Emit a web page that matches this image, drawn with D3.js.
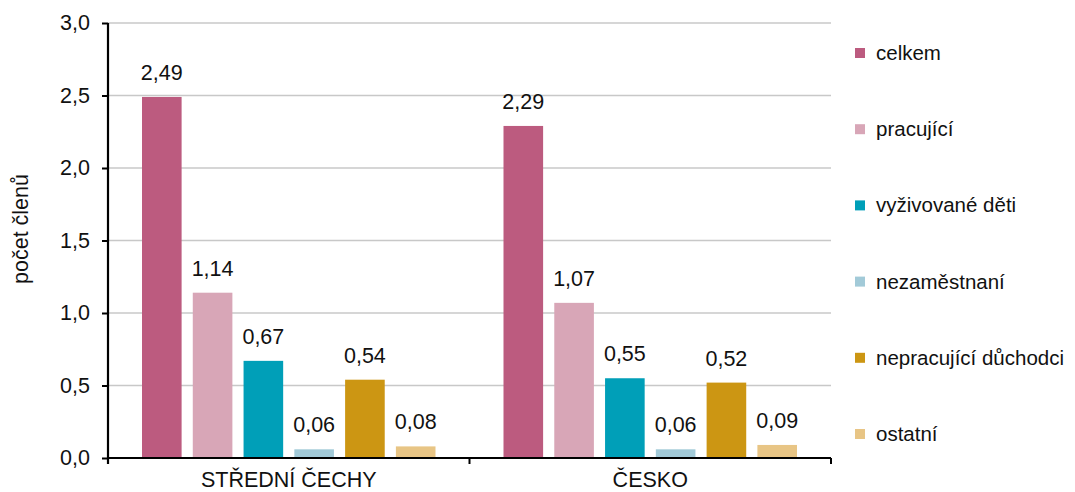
<!DOCTYPE html>
<html>
<head>
<meta charset="utf-8">
<script src="https://cdn.jsdelivr.net/npm/d3@7"></script>
<style>
  html, body { margin: 0; padding: 0; background: #fff; }
  svg { display: block; font-family: "Liberation Sans", Arial, sans-serif; }
</style>
</head>
<body>
<svg id="chart" width="1075" height="492"></svg>
<script>
const categories = ["STŘEDNÍ ČECHY", "ČESKO"];
const seriesNames = ["celkem", "pracující", "vyživované děti", "nezaměstnaní", "nepracující důchodci", "ostatní"];
const seriesColors = ["#BC5B7F", "#D8A6B7", "#009FB8", "#A2CAD8", "#CC9613", "#E8C585"];
const valuesStredniCechy = [2.49, 1.14, 0.67, 0.06, 0.54, 0.08];
const valuesCesko = [2.29, 1.07, 0.55, 0.06, 0.52, 0.09];
const yTicks = [0, 0.5, 1.0, 1.5, 2.0, 2.5, 3.0];
const yTitle = "počet členů";

const seriesValues = [valuesStredniCechy, valuesCesko];

const svg = d3.select("#chart");
const mLeft = 108, mRight = 831, mTop = 23, mBottom = 458;

const x0 = d3.scaleBand().domain(categories).range([mLeft, mRight]).padding(0);
const x1 = d3.scaleBand().domain(seriesNames)
  .range([34, x0.bandwidth() - 34]).paddingInner(0.22).paddingOuter(0);
const y = d3.scaleLinear().domain([0, 3]).range([mBottom, mTop]);

const fmt = v => d3.format(".2f")(v).replace(".", ",");
const fmtTick = v => d3.format(".1f")(v).replace(".", ",");

// gridlines
svg.append("g").selectAll("line").data(yTicks.filter(t => t > 0)).join("line")
  .attr("x1", mLeft).attr("x2", mRight)
  .attr("y1", d => y(d)).attr("y2", d => y(d))
  .attr("stroke", "#C8C8C8").attr("stroke-width", 1.3);

// bars
const groups = svg.append("g").selectAll("g").data(categories).join("g")
  .attr("transform", d => `translate(${x0(d)},0)`);

groups.each(function(cat, ci) {
  const g = d3.select(this);
  const data = seriesNames.map((s, i) => ({ s, v: seriesValues[ci][i], c: seriesColors[i] }));
  g.selectAll("rect").data(data).join("rect")
    .attr("x", d => x1(d.s))
    .attr("width", x1.bandwidth())
    .attr("y", d => y(d.v))
    .attr("height", d => y(0) - y(d.v))
    .attr("fill", d => d.c);
  g.selectAll("text").data(data).join("text")
    .attr("x", d => x1(d.s) + x1.bandwidth() / 2)
    .attr("y", d => y(d.v) - 17)
    .attr("text-anchor", "middle")
    .attr("font-size", 21.5)
    .attr("fill", "#111")
    .text(d => fmt(d.v));
});

// y axis
const yAxis = d3.axisLeft(y).tickValues(yTicks).tickFormat(fmtTick).tickSize(6).tickPadding(12);
const ya = svg.append("g").attr("transform", `translate(${mLeft},0)`).call(yAxis);
ya.select(".domain").attr("stroke", "#000").attr("stroke-width", 2.2).attr("d", `M0,${mTop}V${mBottom + 6}`);
ya.selectAll(".tick line").attr("stroke", "#000").attr("stroke-width", 2);
ya.selectAll(".tick text").attr("font-size", 21.5).attr("fill", "#111").attr("font-family", "Liberation Sans, Arial, sans-serif");

// x axis
const xa = svg.append("g").attr("transform", `translate(0,${mBottom})`);
xa.append("line").attr("x1", mLeft).attr("x2", mRight).attr("y1", 0).attr("y2", 0)
  .attr("stroke", "#000").attr("stroke-width", 2.2);
const boundaries = [x0(categories[0]), x0(categories[1]), x0(categories[1]) + x0.bandwidth()];
xa.selectAll("line.tk").data(boundaries).join("line").attr("class", "tk")
  .attr("x1", d => d).attr("x2", d => d).attr("y1", 0).attr("y2", 6)
  .attr("stroke", "#000").attr("stroke-width", 2);
xa.selectAll("text").data(categories).join("text")
  .attr("x", d => x0(d) + x0.bandwidth() / 2)
  .attr("y", 29)
  .attr("text-anchor", "middle")
  .attr("font-size", 21.5)
  .attr("fill", "#111")
  .text(d => d);

// y title
svg.append("text")
  .attr("transform", "translate(28,229) rotate(-90)")
  .attr("text-anchor", "middle")
  .attr("font-size", 21.5)
  .attr("fill", "#111")
  .text(yTitle);

// legend
const legend = svg.append("g").attr("transform", "translate(855,53)");
const li = legend.selectAll("g").data(seriesNames).join("g")
  .attr("transform", (d, i) => `translate(0,${i * 76.2})`);
li.append("rect").attr("x", 0).attr("y", -5).attr("width", 10).attr("height", 10)
  .attr("fill", (d, i) => seriesColors[i]);
li.append("text").attr("x", 21).attr("y", 7).attr("font-size", 20.5).attr("fill", "#111").text(d => d);
</script>
</body>
</html>
